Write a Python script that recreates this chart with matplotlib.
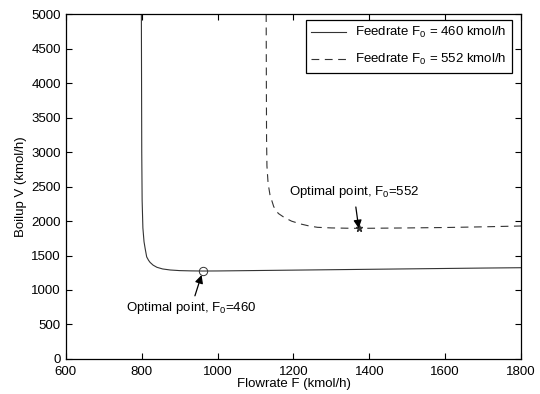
import numpy as np
import matplotlib
matplotlib.use('Agg')
import matplotlib.pyplot as plt

plt.rcParams['font.family'] = ['Liberation Sans', 'DejaVu Sans']
plt.rcParams['mathtext.fontset'] = 'custom'
plt.rcParams['mathtext.rm'] = 'Liberation Sans'
plt.rcParams['mathtext.it'] = 'Liberation Sans:italic'
plt.rcParams['font.size'] = 9.5

# feedrate 460 kmol/h
F460 = [799, 799.5, 800, 801, 803, 806, 809, 813, 818, 822, 830, 840, 855, 875, 900, 930, 961,
        1000, 1100, 1200, 1300, 1400, 1500, 1600, 1700, 1800]
V460 = [5000, 4000, 3000, 2300, 1900, 1700, 1600, 1480, 1430, 1400, 1360, 1329, 1305, 1290, 1281, 1277, 1275,
        1276, 1282, 1288, 1294, 1300, 1306, 1312, 1318, 1323]

# feedrate 552 kmol/h
F552 = [1128, 1128.5, 1129, 1130, 1133, 1138, 1148, 1160, 1175, 1195, 1219, 1240, 1263, 1300, 1340, 1372,
        1400, 1500, 1600, 1700, 1800]
V552 = [5000, 4000, 3200, 2800, 2550, 2380, 2207, 2110, 2054, 1998, 1957, 1930, 1909, 1900, 1896, 1894,
        1895, 1900, 1906, 1916, 1928]

opt460 = (961, 1275)
opt552 = (1372, 1894)

fig = plt.figure(figsize=(5.4, 3.94), dpi=100)
ax = fig.add_axes([0.122, 0.089, 0.843, 0.875])

ax.plot(F460, V460, '-', color='#333333', lw=0.8, label='Feedrate F$_0$ = 460 kmol/h')
ax.plot(F552, V552, '--', color='#333333', lw=0.8, dashes=(7, 5), label='Feedrate F$_0$ = 552 kmol/h')
ax.plot(*opt460, 'o', mfc='none', mec='#333333', ms=6, mew=0.7)
ax.plot(*opt552, '*', color='#333333', ms=5)

ax.annotate('Optimal point, F$_0$=460', xy=opt460, xytext=(930, 740), ha='center', va='center',
            arrowprops=dict(arrowstyle='-|>', color='black', lw=0.9, shrinkA=1, shrinkB=3, mutation_scale=12))
ax.annotate('Optimal point, F$_0$=552', xy=opt552, xytext=(1359, 2420), ha='center', va='center',
            arrowprops=dict(arrowstyle='-|>', color='black', lw=0.9, shrinkA=3, shrinkB=0, mutation_scale=12))

ax.set_xlim(600, 1800)
ax.set_ylim(0, 5000)
ax.set_xticks(np.arange(600, 1801, 200))
ax.set_yticks(np.arange(0, 5001, 500))
ax.tick_params(direction='in', top=True, right=True, length=4, width=0.8)
ax.tick_params(axis='x', pad=5)
for s in ax.spines.values():
    s.set_linewidth(0.9)
ax.set_xlabel('Flowrate F (kmol/h)', labelpad=0)
ax.set_ylabel('Boilup V (kmol/h)', labelpad=3)

leg = ax.legend(loc='upper right', bbox_to_anchor=(0.980, 0.983), fancybox=False, framealpha=1,
                edgecolor='black', borderaxespad=0, handlelength=2.65, handletextpad=0.68,
                borderpad=0.4, labelspacing=0.9)
leg.get_frame().set_linewidth(0.9)

fig.savefig('out.png', dpi=100)
